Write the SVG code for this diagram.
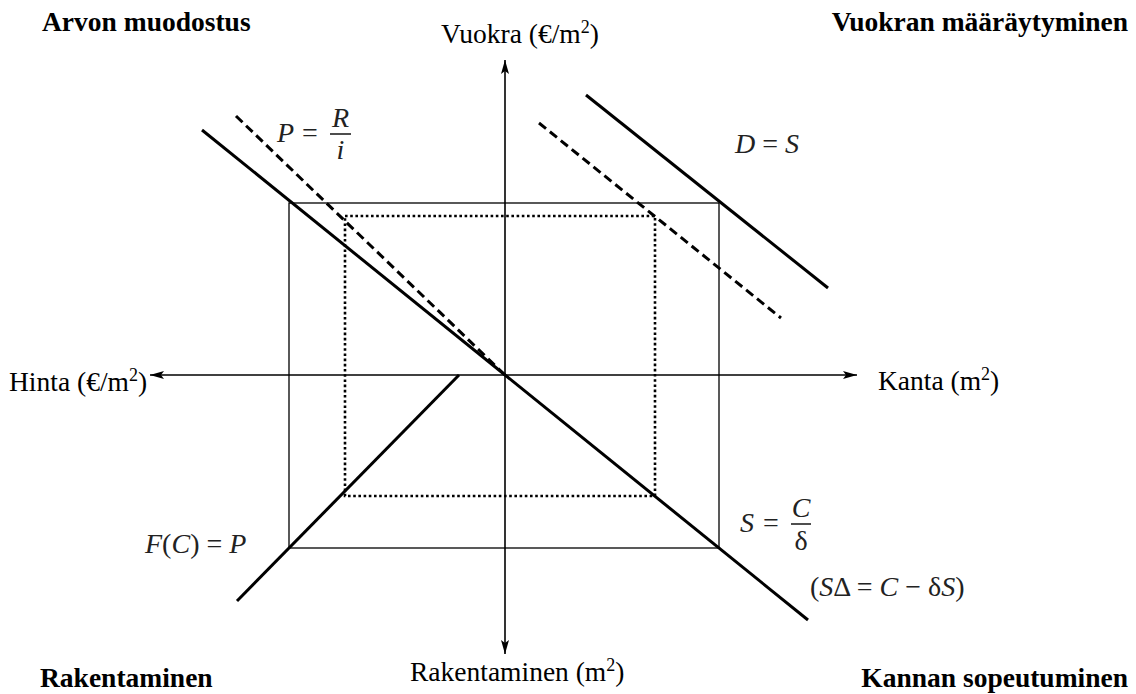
<svg xmlns="http://www.w3.org/2000/svg" width="1136" height="694" viewBox="0 0 1136 694">
<style>
.t{font-family:"Liberation Serif","Times New Roman",serif;font-size:27.5px;fill:#000}
.b{font-family:"Liberation Serif","Times New Roman",serif;font-size:27.5px;font-weight:bold;fill:#000}
.m{font-family:"Liberation Serif","DejaVu Serif",serif;font-size:28px;fill:#222}
.i{font-style:italic}
.thick{stroke:#000;stroke-width:3;fill:none}
.dash{stroke:#000;stroke-width:3;fill:none;stroke-dasharray:9,5}
.thin{stroke:#000;stroke-width:1.3;fill:none}
.bar{stroke:#222;stroke-width:1.6;fill:none}
.dot{stroke:#000;stroke-width:2.6;fill:none;stroke-dasharray:2.6,2.6}
.axis{stroke:#000;stroke-width:1.6;fill:none}
</style>
<defs>
<marker id="ah" markerWidth="15" markerHeight="10" refX="14" refY="5" orient="auto" markerUnits="userSpaceOnUse">
<path d="M0,1 L14,5 L0,9 L3,5 Z" fill="#000"/>
</marker>
</defs>
<rect width="1136" height="694" fill="#fff"/>
<g id="connectors">
<line id="axis-up" class="axis" x1="505" y1="375" x2="505" y2="60" marker-end="url(#ah)"/>
<line id="axis-down" class="axis" x1="505" y1="375" x2="505" y2="654" marker-end="url(#ah)"/>
<line id="axis-left" class="axis" x1="505" y1="375" x2="150" y2="375" marker-end="url(#ah)"/>
<line id="axis-right" class="axis" x1="505" y1="375" x2="857" y2="375" marker-end="url(#ah)"/>
<rect id="rect-thin" class="thin" x="289" y="203" width="430" height="345"/>
<rect id="rect-dotted" class="dot" x="345" y="216" width="310" height="280"/>
<line id="diag-main" class="thick" x1="202" y1="130" x2="808" y2="620"/>
<line id="diag-dashed-left" class="dash" x1="236" y1="116" x2="505" y2="375"/>
<line id="demand-solid" class="thick" x1="586" y1="95" x2="828" y2="288"/>
<line id="demand-dashed" class="dash" x1="539" y1="123" x2="781" y2="318"/>
<line id="construction" class="thick" x1="459" y1="375" x2="237" y2="601"/>
</g>
<g id="quadrant-labels">
<text class="b" x="42" y="31">Arvon muodostus</text>
<text class="b" x="1128" y="31" text-anchor="end">Vuokran määräytyminen</text>
<text class="b" x="40" y="687">Rakentaminen</text>
<text class="b" x="1128" y="687" text-anchor="end">Kannan sopeutuminen</text>
</g>
<g id="axis-labels">
<text class="t" x="520" y="43" text-anchor="middle">Vuokra (€/m<tspan font-size="18" dy="-10">2</tspan><tspan dy="10">)</tspan></text>
<text class="t" x="9" y="391">Hinta (€/m<tspan font-size="18" dy="-10">2</tspan><tspan dy="10">)</tspan></text>
<text class="t" x="878" y="390">Kanta (m<tspan font-size="18" dy="-10">2</tspan><tspan dy="10">)</tspan></text>
<text class="t" x="410" y="681">Rakentaminen (m<tspan font-size="18" dy="-10">2</tspan><tspan dy="10">)</tspan></text>
</g>
<g id="eq-price">
<text class="m i" x="277" y="142">P</text>
<text class="m" x="302" y="142">=</text>
<line class="bar" x1="330" y1="134" x2="351" y2="134"/>
<text class="m i" x="340.5" y="127" text-anchor="middle">R</text>
<text class="m i" x="340.5" y="159" text-anchor="middle">i</text>
</g>
<g id="eq-demand">
<text class="m" x="735" y="153"><tspan class="i">D</tspan> = <tspan class="i">S</tspan></text>
</g>
<g id="eq-construction">
<text class="m" x="145" y="553"><tspan class="i">F</tspan>(<tspan class="i">C</tspan>) = <tspan class="i">P</tspan></text>
</g>
<g id="eq-stock">
<text class="m i" x="740" y="532">S</text>
<text class="m" x="763" y="532">=</text>
<line class="bar" x1="791" y1="524" x2="811" y2="524"/>
<text class="m i" x="801" y="517" text-anchor="middle">C</text>
<text class="m" x="801" y="550" text-anchor="middle">δ</text>
</g>
<g id="eq-change">
<text class="m" x="810" y="596">(<tspan class="i">S</tspan>Δ = <tspan class="i">C</tspan> − δ<tspan class="i">S</tspan>)</text>
</g>
</svg>
